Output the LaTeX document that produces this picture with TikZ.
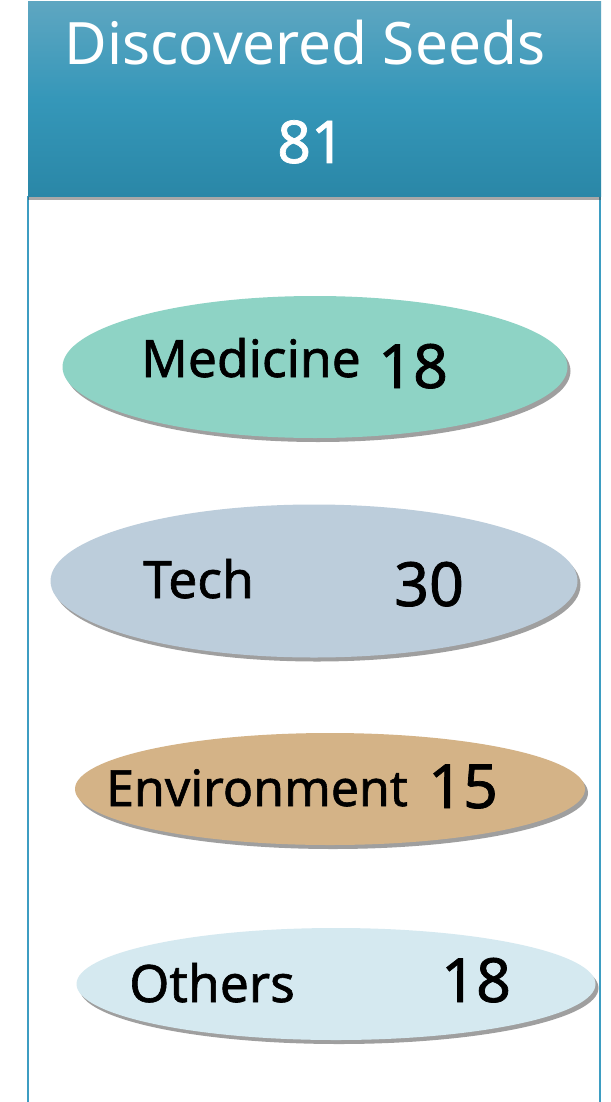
\documentclass[tikz,border=0pt]{standalone}
\usepackage{fontspec}
\setmainfont{Noto Sans}
\newfontfamily\medfont[FakeBold=1.2]{Noto Sans}
\usetikzlibrary{shapes.geometric,shadows}
\definecolor{hdtop}{HTML}{5EA6C1}
\definecolor{hdmid}{HTML}{3597B9}
\definecolor{hdbot}{HTML}{2A87A7}
\definecolor{frameblue}{HTML}{3D9DC2}
\definecolor{medc}{HTML}{8ED3C5}
\definecolor{techc}{HTML}{BCCDDB}
\definecolor{envc}{HTML}{D4B387}
\definecolor{othc}{HTML}{D5E9F0}
\tikzset{
  seed/.style={ellipse, inner sep=0pt, draw=none,
    drop shadow={shadow xshift=3pt, shadow yshift=-4pt, opacity=0.5, fill=black!75}},
  lab/.style={anchor=base west, inner sep=0pt, font=\medfont\fontsize{51.5}{60}\selectfont},
  num/.style={anchor=base west, inner sep=0pt, font=\medfont\fontsize{61}{70}\selectfont},
}
\begin{document}
\begin{tikzpicture}[x=1pt,y=-1pt]
\useasboundingbox (0,0) rectangle (610,1102);
\fill[white] (0,0) rectangle (610,1102);
% frame
\draw[frameblue, line width=2.5pt] (28,196) -- (28,1104);
\draw[frameblue, line width=2.5pt] (600,196) -- (600,1104);
% header
\node[rectangle, inner sep=0pt, minimum width=573pt, minimum height=194pt,
  top color=hdtop, bottom color=hdbot, middle color=hdmid,
  drop shadow={shadow xshift=0pt, shadow yshift=-4pt, opacity=0.45, fill=black!75}]
  (head) at (314.5,99) {};
\node[anchor=base, inner sep=0pt, text=white, font=\fontsize{58.5}{66}\selectfont] (title) at (305,65) {Discovered Seeds};
\node[anchor=base, inner sep=0pt, text=white, font=\medfont\fontsize{59}{66}\selectfont] (total) at (311,163) {81};
% ellipses
\node[seed, fill=medc, minimum width=505pt, minimum height=142pt] (med) at (315,367) {};
\node[lab] (medl) at (141,377) {Medicine};
\node[num] (medn) at (378,388) {18};
\node[seed, fill=techc, minimum width=527pt, minimum height=153pt] (tech) at (314,581) {};
\node[lab] (techl) at (143,598) {Tech};
\node[num] (technn) at (394,606) {30};
\node[seed, fill=envc, minimum width=510pt, minimum height=112pt] (env) at (330,789) {};
\node[lab, font=\medfont\fontsize{50}{60}\selectfont] (envl) at (106,806) {Environment};
\node[num] (envn) at (428,808) {15};
\node[seed, fill=othc, minimum width=519pt, minimum height=112pt] (oth) at (336,984) {};
\node[lab] (othl) at (129,1002) {Others};
\node[num] (othn) at (441,1002) {18};
\end{tikzpicture}
\end{document}
